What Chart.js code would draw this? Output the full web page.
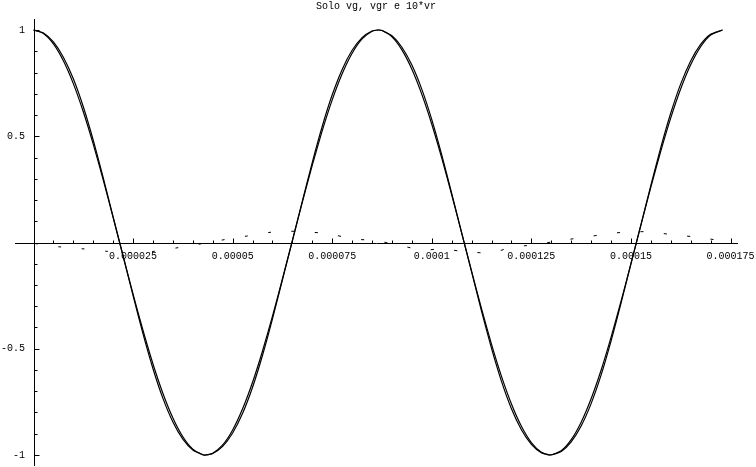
<!DOCTYPE html>
<html>
<head>
<meta charset="utf-8">
<script src="https://cdn.jsdelivr.net/npm/chart.js@4/dist/chart.umd.min.js"></script>
<style>
  html, body { margin: 0; padding: 0; background: #fff; }
  canvas { display: block; }
</style>
</head>
<body>
<canvas id="plot" width="756" height="467"></canvas>
<script>
// time in microseconds (axis labels are in seconds)
const timeUs = [0, 2.5, 5, 7.5, 10, 12.5, 15, 17.5, 20, 22.5, 25, 27.5, 30, 32.5, 35, 37.5, 40, 42.5,
  43.25, 45, 47.5, 50, 52.5, 55, 57.5, 60, 62.5, 65, 67.5, 70, 72.5, 75, 77.5, 80, 82.5, 85,
  86.5, 87.5, 90, 92.5, 95, 97.5, 100, 102.5, 105, 107.5, 110, 112.5, 115, 117.5, 120, 122.5, 125, 127.5,
  129.75, 132.5, 135, 137.5, 140, 142.5, 145, 147.5, 150, 152.5, 155, 157.5, 160, 162.5, 165, 167.5, 170,
  173];

const vg = [1, 0.9836, 0.9348, 0.8552, 0.7477, 0.6153, 0.4629, 0.2951, 0.1177, -0.0636, -0.2428,
  -0.4141, -0.5716, -0.7103, -0.8257, -0.9141, -0.9723, -0.9985,
  -1, -0.9919, -0.9527, -0.8820, -0.7826, -0.6578, -0.5104, -0.3467, -0.1715, 0.0092, 0.1897,
  0.3639, 0.5262, 0.6713, 0.7939, 0.8906, 0.9581, 0.9941,
  1, 0.9973, 0.9678, 0.9064, 0.8152, 0.6970, 0.5563, 0.3971, 0.2248, 0.0451, -0.1361, -0.3128,
  -0.4792, -0.6298, -0.7598, -0.8647, -0.9412, -0.9867,
  -1, -0.9800, -0.9280, -0.8456, -0.7353, -0.6013, -0.4464, -0.2774, -0.0993, 0.0820, 0.2607,
  0.4307, 0.5866, 0.7234, 0.8361, 0.9214, 0.9764,
  1];

const vgr = [1, 0.9861, 0.9439, 0.8721, 0.7703, 0.6386, 0.4813, 0.3049, 0.1197, -0.0642, -0.2499,
  -0.4302, -0.5940, -0.7337, -0.8447, -0.9256, -0.9765, -0.9987,
  -1, -0.9932, -0.9596, -0.8967, -0.8039, -0.6815, -0.5308, -0.3593, -0.1754, 0.0092, 0.1944,
  0.3774, 0.5472, 0.6950, 0.8147, 0.9045, 0.9643, 0.9950,
  1, 0.9977, 0.9726, 0.9187, 0.8348, 0.7206, 0.5783, 0.4123, 0.2311, 0.0454, -0.1387, -0.3236,
  -0.4983, -0.6533, -0.7820, -0.8809, -0.9495, -0.9888,
  -1, -0.9831, -0.9379, -0.8633, -0.7582, -0.6244, -0.4641, -0.2863, -0.1007, 0.0830, 0.2687,
  0.4476, 0.6094, 0.7466, 0.8544, 0.9321, 0.9800,
  1];

// 10*vr
const vrTimeUs = [0, 6.3, 12, 18.1, 24, 30, 36.4, 42.1, 48.1, 53.8, 59.9, 64, 68.3, 74.1, 80.2,
  85.8, 92, 97.7, 102.2, 109.7, 115.5, 119, 124.8, 130.7, 136.7, 142.6, 148.5, 154.4, 160.7,
  166.6, 172.5];
const vr10 = [-0.004, -0.020, -0.029, -0.041, -0.047, -0.042, -0.024, -0.006, 0.014, 0.031,
  0.049, 0.053, 0.050, 0.041, 0.017, 0.009, -0.014, -0.035, -0.031, -0.045, -0.048, -0.027,
  -0.012, 0.004, 0.021, 0.036, 0.049, 0.050, 0.036, 0.025, 0.009];

const xTickValues = [25, 50, 75, 100, 125, 150, 175];
const xTickLabels = ["0.000025", "0.00005", "0.000075", "0.0001", "0.000125", "0.00015", "0.000175"];
const yTickValues = [1, 0.5, -0.5, -1];
const yTickLabels = ["1", "0.5", "-0.5", "-1"];

const titleText = "Solo vg, vgr e 10*vr";
const monoFont = "10px 'Liberation Mono', 'DejaVu Sans Mono', monospace";

function toPoints(xs, ys) {
  return xs.map((t, i) => ({ x: t, y: ys[i] }));
}

// Mathematica style axes crossing at the origin, ticks pointing inward
const axesPlugin = {
  id: "mathAxes",
  beforeDatasetsDraw(chart) {
    const { ctx } = chart;
    const x = chart.scales.x;
    const y = chart.scales.y;
    const x0 = Math.round(x.getPixelForValue(0)) + 0.5;
    const y0 = Math.round(y.getPixelForValue(0)) + 0.5;

    ctx.save();
    ctx.strokeStyle = "#000";
    ctx.lineWidth = 1;
    ctx.beginPath();
    ctx.moveTo(x.left, y0);
    ctx.lineTo(x.right, y0);
    ctx.moveTo(x0, y.top);
    ctx.lineTo(x0, y.bottom);

    for (let t = 5; t <= 175; t += 5) {
      const px = Math.round(x.getPixelForValue(t)) + 0.5;
      const len = t % 25 === 0 ? 5 : 3;
      ctx.moveTo(px, y0);
      ctx.lineTo(px, y0 - len);
    }
    for (let k = -10; k <= 10; k++) {
      if (k === 0) continue;
      const py = Math.round(y.getPixelForValue(k / 10)) + 0.5;
      const len = k % 5 === 0 ? 5 : 3;
      ctx.moveTo(x0, py);
      ctx.lineTo(x0 + len, py);
    }
    ctx.stroke();

    ctx.fillStyle = "#000";
    ctx.font = monoFont;
    ctx.textBaseline = "middle";
    ctx.textAlign = "center";
    xTickValues.forEach((v, i) => {
      ctx.fillText(xTickLabels[i], x.getPixelForValue(v), y0 + 13);
    });
    ctx.textAlign = "right";
    yTickValues.forEach((v, i) => {
      ctx.fillText(yTickLabels[i], x0 - 9.5, y.getPixelForValue(v));
    });

    ctx.textAlign = "center";
    ctx.textBaseline = "alphabetic";
    ctx.fillText(titleText, 376, 8.5);
    ctx.restore();
  }
};

const lineStyle = {
  borderColor: "#000",
  borderWidth: 1.2,
  pointRadius: 0,
  fill: false,
  tension: 0.2
};

new Chart(document.getElementById("plot").getContext("2d"), {
  type: "line",
  data: {
    datasets: [
      Object.assign({ label: "vg", data: toPoints(timeUs, vg) }, lineStyle),
      Object.assign({ label: "vgr", data: toPoints(timeUs, vgr) }, lineStyle),
      Object.assign({ label: "10*vr", data: toPoints(vrTimeUs, vr10),
        borderDash: [3, 20.5], borderDashOffset: -1.5 }, lineStyle, { borderWidth: 1, tension: 0.3 })
    ]
  },
  options: {
    responsive: false,
    animation: false,
    devicePixelRatio: 1,
    layout: { padding: { left: 15, right: 18, top: 19, bottom: 1 } },
    plugins: {
      legend: { display: false },
      tooltip: { enabled: false },
      title: { display: false }
    },
    scales: {
      x: { type: "linear", min: -4.645, max: 176.88, display: false },
      y: { type: "linear", min: -1.0518, max: 1.0518, display: false }
    }
  },
  plugins: [axesPlugin]
});
</script>
</body>
</html>
